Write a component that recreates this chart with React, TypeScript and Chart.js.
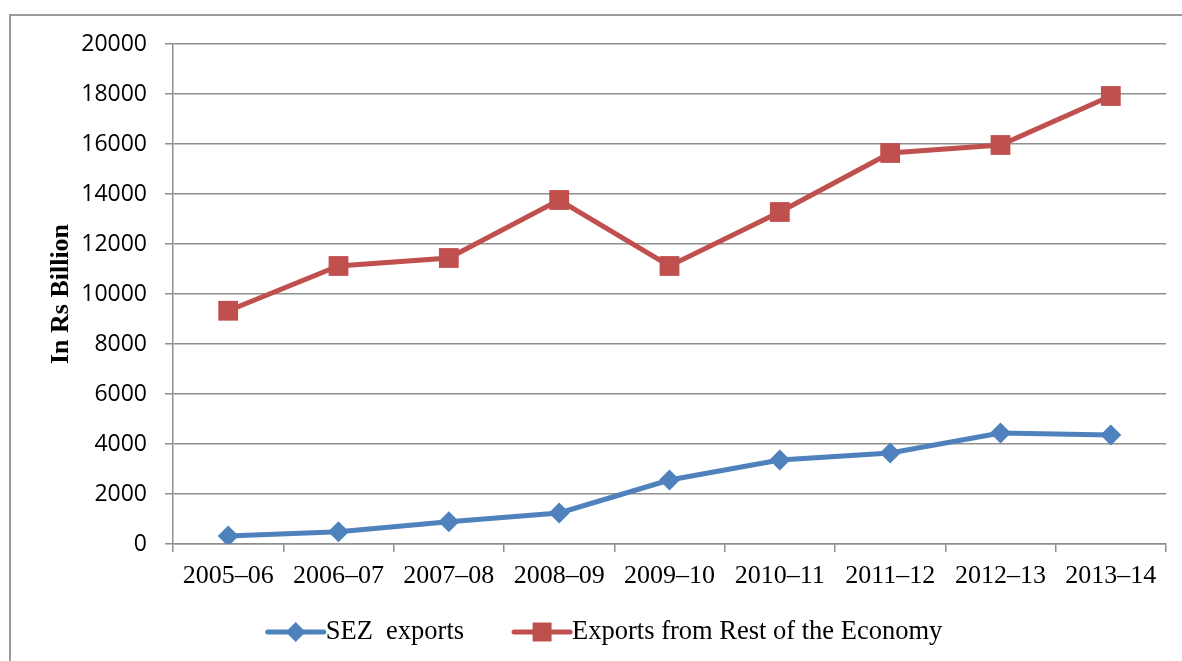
import React, { useEffect, useRef } from 'react';
import { Chart, registerables } from 'chart.js';

Chart.register(...registerables);

const categories = ['2005–06', '2006–07', '2007–08', '2008–09', '2009–10', '2010–11', '2011–12', '2012–13', '2013–14'];
const sezExports = [320, 490, 890, 1240, 2560, 3360, 3640, 4440, 4360];
const restExports = [9330, 11120, 11440, 13760, 11120, 13280, 15640, 15960, 17920];
const seriesLabels = ['SEZ  exports', 'Exports from Rest of the Economy'];
const yAxisTitle = 'In Rs Billion';
const yMin = 0;
const yMax = 20000;
const yStep = 2000;

const BLUE = '#4F81BD';
const RED = '#C0504D';
const GRID = '#8f8f8f';

const legendPlugin = {
  id: 'excelLegend',
  afterDraw(chart: any) {
    const ctx = chart.ctx as CanvasRenderingContext2D;
    const y = 632;
    const lineLen = 56;
    const gapText = 2;
    const gapItems = 50;
    ctx.save();
    ctx.font = '26.5px "Liberation Serif", "Times New Roman", serif';
    const items = chart.data.datasets.map((ds: any) => ({
      label: ds.label as string,
      color: ds.borderColor as string,
      style: ds.pointStyle as string,
      w: ctx.measureText(ds.label).width,
    }));
    let total = 0;
    items.forEach((it: any, i: number) => {
      total += lineLen + gapText + it.w + (i > 0 ? gapItems : 0);
    });
    let x = 605 - total / 2;
    items.forEach((it: any) => {
      ctx.strokeStyle = it.color;
      ctx.lineWidth = 5;
      ctx.lineCap = 'round';
      ctx.beginPath();
      ctx.moveTo(x, y);
      ctx.lineTo(x + lineLen, y);
      ctx.stroke();
      const cx = x + lineLen / 2;
      ctx.fillStyle = it.color;
      ctx.beginPath();
      if (it.style === 'rectRot') {
        const r = 10;
        ctx.moveTo(cx, y - r);
        ctx.lineTo(cx + r, y);
        ctx.lineTo(cx, y + r);
        ctx.lineTo(cx - r, y);
        ctx.closePath();
      } else {
        const h = 9.5;
        ctx.rect(cx - h, y - h, 2 * h, 2 * h);
      }
      ctx.fill();
      ctx.fillStyle = '#000';
      ctx.textBaseline = 'middle';
      ctx.textAlign = 'left';
      ctx.fillText(it.label, x + lineLen + gapText, y);
      x += lineLen + gapText + it.w + gapItems;
    });
    ctx.restore();
  },
};

export default function App() {
  const canvasRef = useRef<HTMLCanvasElement | null>(null);

  useEffect(() => {
    if (!canvasRef.current) return;
    const chart = new Chart(canvasRef.current, {
      type: 'line',
      data: {
        labels: categories,
        datasets: [
          {
            label: seriesLabels[0],
            data: sezExports,
            borderColor: BLUE,
            backgroundColor: BLUE,
            borderWidth: 5,
            pointStyle: 'rectRot',
            pointRadius: 10.5,
            pointBorderWidth: 0,
            pointBackgroundColor: BLUE,
            tension: 0,
          },
          {
            label: seriesLabels[1],
            data: restExports,
            borderColor: RED,
            backgroundColor: RED,
            borderWidth: 5,
            pointStyle: 'rect',
            pointRadius: 14,
            pointBorderWidth: 0,
            pointBackgroundColor: RED,
            tension: 0,
          },
        ],
      },
      options: {
        responsive: false,
        animation: false,
        devicePixelRatio: 1,
        layout: { padding: { left: 0, right: 16, top: 44, bottom: 67 } },
        plugins: {
          legend: { display: false },
          tooltip: { enabled: false },
        },
        scales: {
          x: {
            type: 'category',
            offset: true,
            grid: {
              display: true,
              drawOnChartArea: false,
              drawTicks: true,
              tickLength: 8,
              offset: true,
              color: GRID,
              lineWidth: 1.5,
            },
            border: { display: true, color: GRID, width: 1.5 },
            ticks: {
              color: '#000',
              padding: 9,
              maxRotation: 0,
              autoSkip: false,
              font: { family: '"Liberation Serif", "Times New Roman", serif', size: 26 },
            },
            afterFit: (scale: any) => {
              scale.height = 50;
            },
          },
          y: {
            min: yMin,
            max: yMax,
            ticks: {
              stepSize: yStep,
              color: '#000',
              padding: 18,
              font: { family: '"Open Sans", sans-serif', size: 23 },
              callback: (v: any) => String(v),
            },
            grid: {
              color: GRID,
              lineWidth: 1.5,
              tickLength: 8,
              drawTicks: true,
            },
            border: { display: true, color: GRID, width: 1.5 },
            title: {
              display: true,
              text: yAxisTitle,
              color: '#000',
              padding: { top: 46, bottom: 0 },
              font: { family: '"Liberation Serif", "Times New Roman", serif', size: 26, weight: 'bold' },
            },
            afterFit: (scale: any) => {
              scale.width = 173;
            },
          },
        },
      },
      plugins: [legendPlugin],
    });
    return () => chart.destroy();
  }, []);

  return (
    <div style={{ position: 'fixed', left: 0, top: 0, width: 1182, height: 661, overflow: 'hidden', background: '#fff' }}>
      <div
        style={{
          position: 'absolute',
          left: 9,
          top: 14,
          width: 1300,
          height: 800,
          border: '2px solid #9a9a9a',
          boxSizing: 'border-box',
        }}
      />
      <canvas
        ref={canvasRef}
        width={1182}
        height={661}
        style={{ position: 'absolute', left: 0, top: 0, width: 1182, height: 661 }}
      />
    </div>
  );
}
